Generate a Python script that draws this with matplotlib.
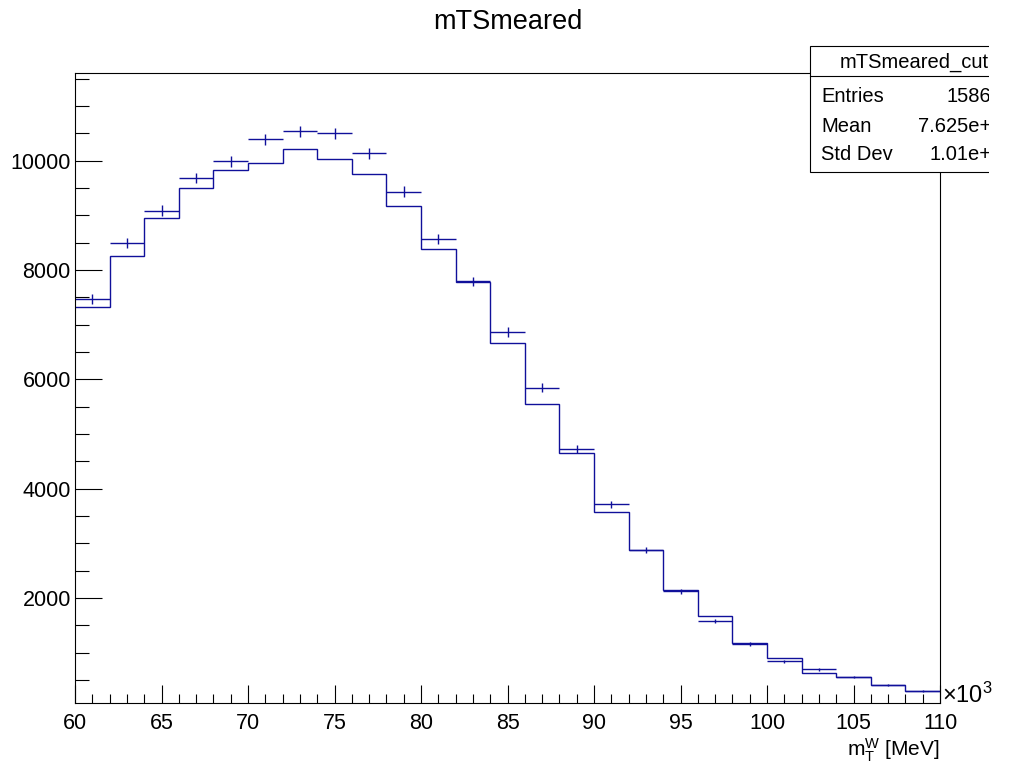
import numpy as np
import matplotlib
matplotlib.use('Agg')
import matplotlib.pyplot as plt
from matplotlib.patches import Rectangle
from matplotlib.ticker import MultipleLocator

# Histogram bins (in units of 10^3 MeV)
bin_edges = np.arange(60, 112, 2)
bin_centers = bin_edges[:-1] + 1

# Points with error bars (mTSmeared_cut)
counts_cut = [7474, 8489, 9087, 9685, 9989, 10392, 10538, 10502, 10135, 9435,
              8562, 7793, 6867, 5850, 4726, 3713, 2878, 2120, 1575, 1160,
              840, 694, 550, 408, 304]

# Step histogram (mTSmeared)
counts_all = [7318, 8258, 8959, 9502, 9832, 9960, 10209, 10026, 9758, 9173,
              8386, 7780, 6659, 5555, 4659, 3566, 2870, 2145, 1670, 1170,
              902, 633, 556, 408, 304]

stats_labels = ['Entries', 'Mean', 'Std Dev']
stats_values = ['158642', '7.625e+04', '1.01e+04']

line_col = '#10109a'
plt.rcParams['font.family'] = ['Liberation Sans', 'DejaVu Sans']
plt.rcParams['mathtext.fontset'] = 'custom'
plt.rcParams['mathtext.rm'] = 'Liberation Sans'
plt.rcParams['mathtext.it'] = 'Liberation Sans:italic'

fig = plt.figure(figsize=(10.11, 7.65), dpi=100)
ax = fig.add_axes([0.0742, 0.0810, 0.8556, 0.8235])

ax.stairs(counts_all, bin_edges, baseline=None, color=line_col, linewidth=1.0)
ax.errorbar(bin_centers, counts_cut, xerr=1, yerr=np.sqrt(counts_cut), fmt='none',
            ecolor=line_col, elinewidth=1.0, capsize=0)

ax.set_xlim(60, 110)
ax.set_ylim(77, 11605)

ax.xaxis.set_major_locator(MultipleLocator(5))
ax.xaxis.set_minor_locator(MultipleLocator(1))
ax.yaxis.set_major_locator(MultipleLocator(2000))
ax.yaxis.set_minor_locator(MultipleLocator(500))
ax.tick_params(axis='both', which='both', direction='in', top=False, right=False,
               color='black', width=0.8, labelsize=15.5)
ax.tick_params(axis='x', which='major', length=13, pad=7)
ax.tick_params(axis='x', which='minor', length=6.5)
ax.tick_params(axis='y', which='major', length=19.5, pad=3)
ax.tick_params(axis='y', which='minor', length=10)
for sp in ax.spines.values():
    sp.set_linewidth(0.8)

# title and axis text
fig.text(508 / 1011, 1 - 22 / 765, 'mTSmeared', ha='center', va='center', fontsize=19.5)
fig.text(942 / 1011, 1 - 695 / 765, r'$\times$10$^{3}$', ha='left', va='center',
         fontsize=17)
fig.text(940 / 1011, 1 - 750 / 765, r'm$_{\mathrm{T}}^{\mathrm{W}}$ [MeV]', ha='right',
         va='center', fontsize=15)

# stats box
bx0, by_top, by_bot, by_sep = 810, 46, 172, 76
fig.patches.append(Rectangle((bx0 / 1011, 1 - by_bot / 765), 0.3, (by_bot - by_top) / 765,
                             transform=fig.transFigure, facecolor='white',
                             edgecolor='black', linewidth=0.8, zorder=5))
fig.lines.append(plt.Line2D([bx0 / 1011, 1.1], [1 - by_sep / 765] * 2,
                            transform=fig.transFigure, color='black', linewidth=0.8, zorder=6))
fig.text(914 / 1011, 1 - 62 / 765, 'mTSmeared_cut', ha='center', va='center',
         fontsize=14.5, zorder=7)
row_y = [96, 127, 155]
for lab, val, yy in zip(stats_labels, stats_values, row_y):
    fig.text(821 / 1011, 1 - yy / 765, lab, ha='left', va='center', fontsize=14.5,
             zorder=7)
    fig.text(1014 / 1011, 1 - yy / 765, val, ha='right', va='center', fontsize=14.5,
             zorder=7)
# the canvas is cut at the right edge
fig.patches.append(Rectangle((989 / 1011, 1 - 180 / 765), 0.1, 150 / 765,
                             transform=fig.transFigure, facecolor='white',
                             edgecolor='none', zorder=10))

fig.savefig('out.png', dpi=100)
